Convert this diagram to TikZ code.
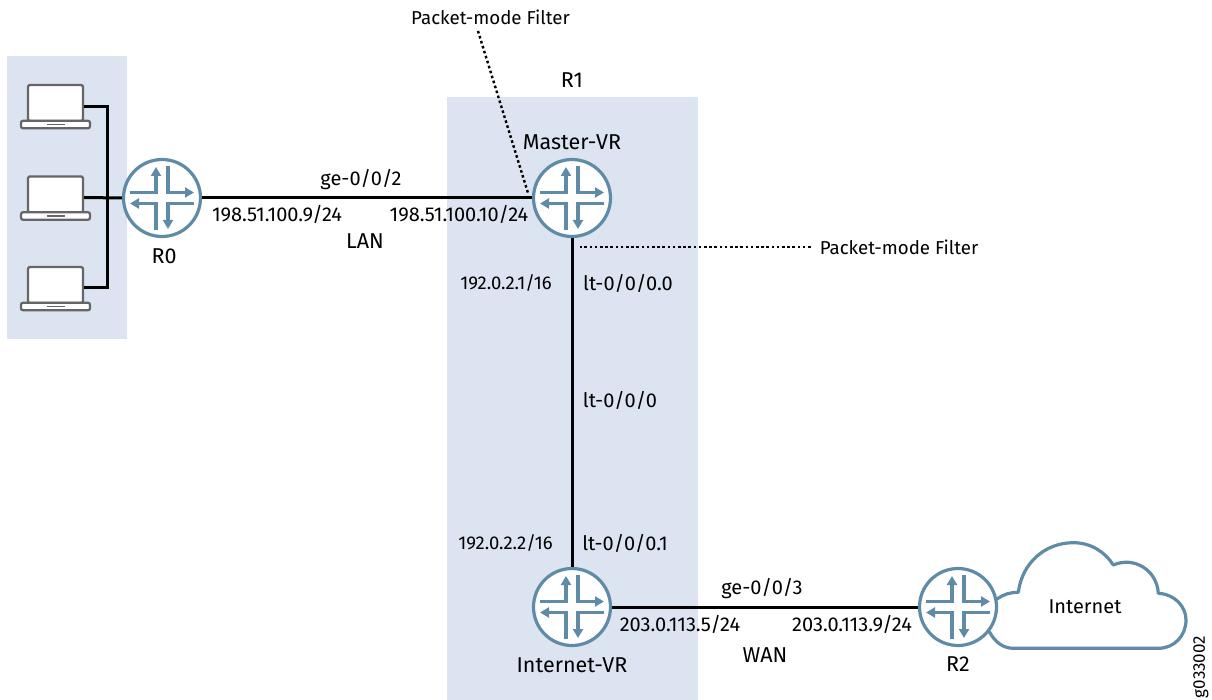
\documentclass[tikz,border=0pt]{standalone}
\usepackage{fontspec}
\setmainfont{Fira Sans}
\definecolor{panelblue}{HTML}{DCE4F1}
\definecolor{routerblue}{HTML}{5F8BA6}
\definecolor{laptopgray}{HTML}{666666}
\usetikzlibrary{arrows.meta}
\tikzset{
    panel/.style={fill=panelblue, draw=none},
    link/.style={draw=black, line width=3pt},
    filterline/.style={draw=black, line width=2.4pt, dash pattern=on 2.6pt off 2.6pt},
    lbl/.style={font=\fontsize{20}{22}\selectfont, inner sep=0pt},
    shortlbl/.style={font=\fontsize{18.5}{22}\selectfont, inner sep=0pt},
    namelbl/.style={font=\fontsize{21.5}{24}\selectfont, inner sep=0pt},
    filterlbl/.style={font=\fontsize{18.7}{22}\selectfont, inner sep=0pt},
    idlbl/.style={font=\fontsize{17}{20}\selectfont, inner sep=0pt},
    routerarrow/.style={routerblue, line width=3.2pt, -{Stealth[length=9pt,width=10pt,inset=0pt]}},
    router/.style={circle, draw=routerblue, fill=white, line width=3.2pt, minimum size=77pt, inner sep=0pt,
        path picture={
            \begin{scope}[shift={(path picture bounding box.center)}]
                \draw[routerarrow] (-32pt,5.5pt) -- (-6pt,5.5pt) -- (-6pt,31pt);
                \draw[routerarrow] (6pt,32pt) -- (6pt,5.5pt) -- (32pt,5.5pt);
                \draw[routerarrow] (32pt,-5.5pt) -- (6pt,-5.5pt) -- (6pt,-31pt);
                \draw[routerarrow] (-6pt,-32pt) -- (-6pt,-5.5pt) -- (-32pt,-5.5pt);
            \end{scope}
        }},
    screen/.style={rectangle, rounded corners=1.5pt, draw=laptopgray, fill=white, line width=2.2pt,
        minimum width=55pt, minimum height=36pt, inner sep=0pt},
    keyboard/.style={rectangle, rounded corners=2pt, draw=laptopgray, fill=white, line width=2.2pt,
        minimum width=69pt, minimum height=7.5pt, inner sep=0pt,
        path picture={
            \draw[laptopgray, line width=1.6pt] ([xshift=-9pt]path picture bounding box.center) -- ([xshift=9pt]path picture bounding box.center);
        }},
}
\begin{document}
\begin{tikzpicture}[x=1pt, y=-1pt]
    \useasboundingbox (0,0) rectangle (1212,700);

    % panels
    \fill[panel] (7,56) rectangle (127,339);
    \fill[panel] (447,97) rectangle (698,700);

    % laptops
    \foreach \n/\y in {1/103,2/194.5,3/285}{
        \node[screen] (pc\n) at (55.5,\y) {};
        \node[keyboard] (kb\n) at (55.5,\y+21.5) {};
    }

    % routers
    \node[router] (r0) at (162,198) {};
    \node[router] (master) at (572,198) {};
    \node[router] (inet) at (572,607) {};
    \node[router] (r2) at (958,607) {};

    % cloud
    \draw[routerblue, line width=3.2pt, line join=round]
        (996.7,599.3) .. controls (1003,594.5) and (1010,592.3) .. (1018.3,592.3)
        .. controls (1022,563) and (1045,542.7) .. (1073.3,542.7)
        .. controls (1091,542.7) and (1105,552) .. (1113.3,565)
        .. controls (1134,556) and (1157,570) .. (1158.3,593.3)
        .. controls (1174,594) and (1186,606) .. (1186,620)
        .. controls (1186,636) and (1174,648.3) .. (1158.3,648.3)
        -- (1013.3,648.3)
        .. controls (1003,648.3) and (995,642) .. (989.3,631.7);
    \node[lbl] (cloud) at (1085,607) {Internet};

    % links
    \coordinate (bus) at (107,198);
    \draw[link] ([yshift=-4pt]pc1.east) -| (bus) |- ([yshift=-3pt]pc3.east);
    \draw[link] ([yshift=-3pt]pc2.east) -- (r0.west);
    \draw[link] (r0) -- (master);
    \draw[link] (master) -- (inet);
    \draw[link] (inet) -- (r2);

    % filters
    \node[filterlbl] (filtertop) at (490.5,17) {Packet-mode Filter};
    \node[filterlbl] (filterright) at (899,247) {Packet-mode Filter};
    \coordinate (filtertopend) at (528,193);
    \coordinate (filterrightend) at (580,247);
    \draw[filterline] (478,31) -- (filtertopend);
    \draw[filterline] (filterright.west) ++(-9,0) -- (filterrightend);

    % labels
    \node[namelbl] (r1lbl) at (572,80) {R1};
    \node[namelbl] (r0lbl) at (164,256) {R0};
    \node[namelbl] (masterlbl) at (572,142) {Master-VR};
    \node[namelbl] (inetlbl) at (572,665) {Internet-VR};
    \node[namelbl] (r2lbl) at (958,664) {R2};
    \node[lbl] (lanport) at (361,180) {ge-0/0/2};
    \node[lbl] (r0ip) at (277,214) {198.51.100.9/24};
    \node[lbl] (masterip) at (459,214) {198.51.100.10/24};
    \node[namelbl] (lan) at (365,241) {LAN};
    \node[shortlbl] (ltip1) at (506,283) {192.0.2.1/16};
    \node[lbl] (ltunit0) at (628,283) {lt-0/0/0.0};
    \node[lbl] (ltport) at (620,400) {lt-0/0/0};
    \node[shortlbl] (ltip2) at (505.5,543) {192.0.2.2/16};
    \node[lbl] (ltunit1) at (625,543) {lt-0/0/0.1};
    \node[lbl] (wanport) at (762,589) {ge-0/0/3};
    \node[lbl] (inetip) at (680,624) {203.0.113.5/24};
    \node[lbl] (r2ip) at (852,624) {203.0.113.9/24};
    \node[namelbl] (wan) at (765,655) {WAN};
    \node[idlbl, rotate=90] (figid) at (1201,667) {g033002};

\end{tikzpicture}
\end{document}
